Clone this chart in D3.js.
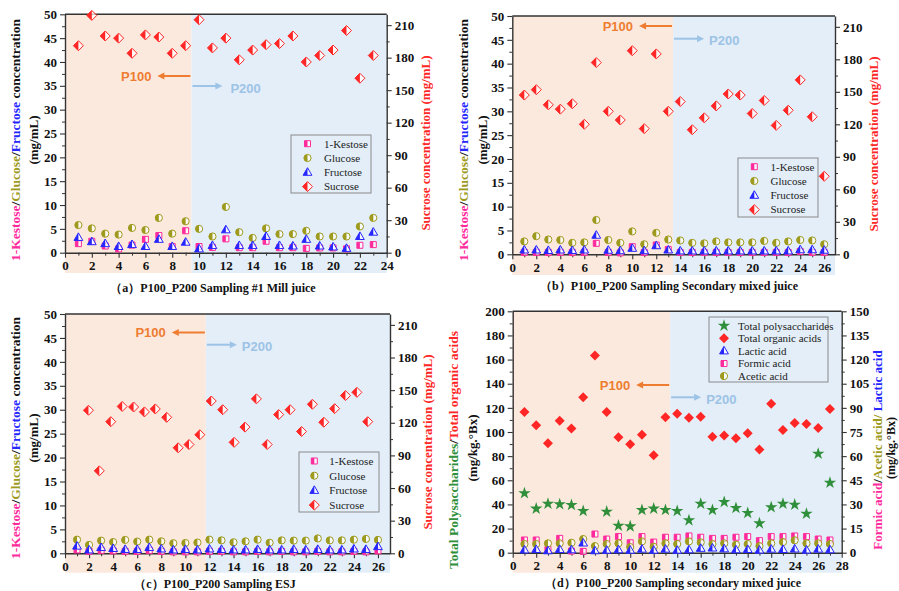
<!DOCTYPE html>
<html><head><meta charset="utf-8">
<script src="https://cdn.jsdelivr.net/npm/d3@7/dist/d3.min.js"></script>
<style>html,body{margin:0;padding:0;background:#fff;overflow:hidden}</style>
</head><body>
<svg id="chart" width="899" height="591"></svg>
<script>
// ---------------- DATA ----------------
// Panel (a) P100_P200 Sampling #1 Mill juice
const sampleA   = [1,2,3,4,5,6,7,8,9,10,11,12,13,14,15,16,17,18,19,20,21,22,23];
const kestoseA  = [1.9,2.4,1.4,0.8,1.6,2.8,3.6,1.3,4.6,1.3,1.1,2.9,1.05,1.05,2.4,1.05,1.05,0.9,1.0,1.0,0.8,1.55,1.7];
const glucoseA  = [5.8,5.1,4.0,3.8,5.2,4.75,7.3,4.0,6.6,5.0,3.4,9.6,4.3,3.1,5.1,3.9,3.9,4.6,3.4,3.4,3.4,5.5,7.3];
const fructoseA = [3.2,2.3,1.9,1.3,1.7,1.3,2.8,1.3,2.2,0.8,1.5,4.8,1.5,1.5,3.4,1.5,1.4,2.8,1.4,1.2,0.9,3.4,4.3];
const sucroseA  = [191,219,200,198,184,201,199,184,191,215,189,198,178,187,192,193,200,176,182,187,205,161,182];

// Panel (b) P100_P200 Sampling Secondary mixed juice
const sampleB   = [1,2,3,4,5,6,7,8,9,10,11,12,13,14,15,16,17,18,19,20,21,22,23,24,25,26];
const kestoseB  = [0.4,0.4,0.4,0.4,0.4,0.4,2.3,0.4,0.3,1.6,0.4,1.95,1.0,0.4,0.4,0.4,0.4,0.4,0.4,0.4,0.4,0.4,0.4,0.6,0.4,0.4];
const glucoseB  = [2.7,3.8,3.1,3.0,2.4,2.5,7.2,3.0,2.4,4.8,2.1,4.5,3.1,2.9,2.4,2.3,2.7,2.5,2.5,2.5,2.8,2.4,2.7,3.0,2.9,2.1];
const fructoseB = [0.9,0.9,0.8,0.9,0.8,0.9,4.0,0.85,0.75,1.25,0.75,1.8,0.9,0.7,0.7,0.7,0.7,0.7,0.7,0.7,0.7,0.7,0.7,0.95,0.95,0.85];
const sucroseB  = [147,152,138,134,139,120,177,132,124,188,116,185,132,141,115,126,137,148,147,130,142,119,133,161,127,72];

// Panel (c) P100_P200 Sampling ESJ
const sampleC   = [1,2,3,4,5,6,7,8,9,10,11,12,13,14,15,16,17,18,19,20,21,22,23,24,25,26];
const kestoseC  = [0.7,0.4,0.6,0.5,0.4,0.4,0.6,0.4,0.3,0.3,0.3,0.4,0.4,0.3,0.3,0.4,0.3,0.4,0.3,0.3,0.4,0.3,0.3,0.4,0.3,0.5];
const glucoseC  = [2.85,1.75,2.65,2.35,2.8,2.45,2.85,2.5,2.1,2.15,2.25,2.85,2.7,2.3,2.5,2.85,2.2,2.7,2.65,2.65,3.1,2.7,2.7,2.85,3.0,2.8];
const fructoseC = [1.5,0.7,1.2,1.0,0.8,0.8,1.2,0.9,0.7,0.8,0.7,0.9,0.8,0.7,0.7,0.8,0.7,0.7,0.8,0.7,0.8,0.7,0.7,0.9,0.8,1.4];
const sucroseXC = [1.95,2.85,3.8,4.75,5.7,6.6,7.5,8.45,9.4,10.3,11.2,12.15,13.1,14.05,14.95,15.9,16.8,17.75,18.7,19.65,20.55,21.5,22.4,23.3,24.25,25.15];
const sucroseC  = [131.5,75.8,121,135,134.5,130,132.7,125,97,100,109,140,132,102,116,142,100,127.5,132,112,137,120.5,133,145,148,121];

// Panel (d) P100_P200 Sampling secondary mixed juice (organic acids)
const sampleD   = [1,2,3,4,5,6,7,8,9,10,11,12,13,14,15,16,17,18,19,20,21,22,23,24,25,26,27];
const polysD    = [49.2,36.5,40.6,40.1,39.5,34.5,null,34.0,22.4,21.8,35.4,36.5,35.4,34.5,26.8,40.6,35.4,42,37,32.9,24.3,37.6,40.6,39.8,32.3,82,58];
const organicD  = [116.6,105.5,90.6,109.4,102.8,128.7,163.3,116.6,95.6,89.8,97.8,80.7,112.2,115.2,111.9,112.7,96.1,97.2,94.8,98.9,85.4,123.5,101.7,107.5,106.6,103.3,119.1];
const lacticD   = [1.7,2.0,1.2,2.0,1.8,6.0,1.2,1.5,1.8,1.5,2.2,1.5,2.2,1.5,1.8,2.7,2.9,2.4,1.8,2.0,1.6,2.2,2.0,2.3,1.6,2.2,1.8];
const formicD   = [7.9,7.9,2.0,8.9,1.0,0.8,11.6,8.5,10,6.2,10,6.6,9.6,9.6,10.4,9.6,8.9,8.9,9.6,10,7.5,10,10,10.4,10,8.5,7.9];
const aceticD   = [5.4,5.4,5.8,5.8,6.2,8.5,4.1,5.4,5.8,3.5,7.0,3.7,5.8,5.4,7.0,6.4,5.4,5.8,5.0,5.4,4.1,5.8,6.6,7.7,5.8,5.8,5.4];

// Tick labels
const ticksLeftSugar  = [0,5,10,15,20,25,30,35,40,45,50];
const ticksRightSugar = [0,30,60,90,120,150,180,210];
const ticksLeftAcid   = [0,20,40,60,80,100,120,140,160,180,200];
const ticksRightAcid  = [0,15,30,45,60,75,90,105,120,135,150];
const ticksX24 = [0,2,4,6,8,10,12,14,16,18,20,22,24];
const ticksX26 = [0,2,4,6,8,10,12,14,16,18,20,22,24,26];
const ticksX28 = [0,2,4,6,8,10,12,14,16,18,20,22,24,26,28];

const captions = ["（a）P100_P200 Sampling #1 Mill juice","（b）P100_P200 Sampling Secondary mixed juice","（c）P100_P200 Sampling ESJ","（d）P100_P200 Sampling secondary mixed juice"];

// ---------------- STYLE ----------------
const SERIF = "'Liberation Serif','Times New Roman',serif";
const SANS = "'Liberation Sans',Arial,sans-serif";
const C = {kes:"#ff2a9c", glu:"#9e9a1e", fru:"#2626ff", suc:"#ff2626", green:"#2f8f3a",
  orangeBg:"#fce9dd", blueBg:"#e3eef8", orange:"#ee7d31", blue:"#9dc3e6", axis:"#333"};

const svg = d3.select("#chart");
const defs = svg.append("defs");
defs.append("clipPath").attr("id","lh").attr("clipPathUnits","userSpaceOnUse")
  .append("rect").attr("x",-12).attr("y",-12).attr("width",12).attr("height",24);

const shapes = {
  square: "M-3,-3H3V3H-3Z",
  triangle: "M0,-4.6L4.4,3L-4.4,3Z",
  diamond: "M0,-5L5,0L0,5L-5,0Z",
  star: d3.symbol(d3.symbolStar).size(48)()
};

function marker(g, type, color, cx, cy, half) {
  const m = g.append("g").attr("transform", `translate(${cx},${cy})`);
  if (type === "circle") {
    m.append("circle").attr("r",3.6).attr("fill", half ? "#fff" : color).attr("fill-opacity",0.7).attr("stroke",color).attr("stroke-width",1);
    if (half) m.append("circle").attr("r",3.6).attr("fill",color).attr("clip-path","url(#lh)");
  } else {
    const d = shapes[type];
    if (half) {
      m.append("path").attr("d",d).attr("fill","#fff").attr("fill-opacity",0.7).attr("stroke",color).attr("stroke-width",1);
      m.append("path").attr("d",d).attr("fill",color).attr("clip-path","url(#lh)");
    } else {
      m.append("path").attr("d",d).attr("fill",color);
    }
  }
}

function styleAxis(sel) {
  sel.select(".domain").attr("stroke",C.axis).attr("stroke-width",1.4);
  sel.selectAll(".tick line").attr("stroke",C.axis).attr("stroke-width",1.1);
  sel.selectAll("text").attr("font-family",SERIF).attr("font-weight","bold").attr("font-size",13).attr("fill","#111");
}
function minorAxis(g, gen, vals, tr) {
  const a = g.append("g").attr("transform",tr).call(gen.tickValues(vals).tickSize(3).tickSizeOuter(0).tickFormat(""));
  a.select(".domain").remove();
  a.selectAll(".tick line").attr("stroke",C.axis).attr("stroke-width",1);
}

function rotText(g, x, y, parts, size) {
  const t = g.append("text").attr("transform",`translate(${x},${y}) rotate(-90)`)
    .attr("text-anchor","middle").attr("dy","0.35em")
    .attr("font-family",SERIF).attr("font-weight","bold").attr("font-size",size||13);
  parts.forEach(p => t.append("tspan").attr("fill",p[1]).text(p[0]));
}

function drawPanel(p) {
  const g = svg.append("g");
  const x = d3.scaleLinear().domain([0,p.xMax]).range([p.l,p.r]);
  const yL = d3.scaleLinear().domain([0,p.yLMax]).range([p.b,p.t]);
  const yR = d3.scaleLinear().domain([0,p.yRMax]).range([p.b,p.t]);
  // shading
  g.append("rect").attr("x",x(0)).attr("y",p.t).attr("width",x(p.split)-x(0)).attr("height",p.shadeB-p.t).attr("fill",C.orangeBg);
  g.append("rect").attr("x",x(p.split)).attr("y",p.t).attr("width",p.r-x(p.split)).attr("height",p.shadeB-p.t).attr("fill",C.blueBg);
  // axes
  styleAxis(g.append("g").attr("transform",`translate(${p.l},0)`).call(d3.axisLeft(yL).tickValues(p.ticksL).tickSize(5).tickSizeOuter(0).tickPadding(3).tickFormat(d3.format("d"))));
  minorAxis(g, d3.axisLeft(yL), p.ticksL.slice(1).map(v=>v-p.stepL/2), `translate(${p.l},0)`);
  styleAxis(g.append("g").attr("transform",`translate(${p.r},0)`).call(d3.axisRight(yR).tickValues(p.ticksR).tickSize(5).tickSizeOuter(0).tickPadding(3).tickFormat(d3.format("d"))));
  minorAxis(g, d3.axisRight(yR), p.ticksR.map(v=>v+p.stepR/2).filter(v=>v<p.yRMax), `translate(${p.r},0)`);
  styleAxis(g.append("g").attr("transform",`translate(0,${p.b})`).call(d3.axisBottom(x).tickValues(p.ticksX).tickSize(5).tickSizeOuter(0).tickPadding(3).tickFormat(d3.format("d"))));
  minorAxis(g, d3.axisBottom(x), p.ticksX.map(v=>v+1).filter(v=>v<p.xMax), `translate(0,${p.b})`);
  g.append("line").attr("x1",p.l).attr("x2",p.r).attr("y1",p.t).attr("y2",p.t).attr("stroke",C.axis).attr("stroke-width",1.4);
  // series
  p.series.forEach(s => {
    s.y.forEach((v,i) => { if (v == null) return;
      marker(g, s.type, s.color, x(s.x[i]), (s.right ? yR : yL)(v), s.half); });
  });
  // legend
  const L = p.legend;
  g.append("rect").attr("x",L.x).attr("y",L.y).attr("width",L.w).attr("height",L.h).attr("fill","none").attr("stroke","#8a8a8a").attr("stroke-width",1);
  p.series.slice().sort((a,b)=>a.li-b.li).forEach((s,k) => {
    const yy = L.y0 + k*L.dy;
    marker(g, s.type, s.color, L.mx, yy, s.half);
    g.append("text").attr("x",L.tx).attr("y",yy).attr("dy","0.35em").attr("font-family",SERIF).attr("font-size",11).attr("fill","#222").text(s.name);
  });
  // P100 / P200 annotations
  const A = p.ann;
  const xs = x(p.split);
  g.append("line").attr("x1",xs-1).attr("x2",xs-28).attr("y1",A.y1).attr("y2",A.y1).attr("stroke",C.orange).attr("stroke-width",2);
  g.append("path").attr("d",`M${xs-34},${A.y1}l7,-3.5v7z`).attr("fill",C.orange);
  g.append("text").attr("x",xs-40).attr("y",A.y1).attr("dy","0.36em").attr("text-anchor","end").attr("font-family",SANS).attr("font-weight","bold").attr("font-size",13).attr("fill",C.orange).text("P100");
  g.append("line").attr("x1",xs+1).attr("x2",xs+25).attr("y1",A.y2).attr("y2",A.y2).attr("stroke",C.blue).attr("stroke-width",2);
  g.append("path").attr("d",`M${xs+31},${A.y2}l-7,-3.5v7z`).attr("fill",C.blue);
  g.append("text").attr("x",xs+A.gap).attr("y",A.y2+2).attr("dy","0.36em").attr("font-family",SANS).attr("font-weight","bold").attr("font-size",13).attr("fill",C.blue).text("P200");
  // axis titles
  rotText(g, p.lt1.x, p.lt1.y, p.leftTitle, 13.5);
  rotText(g, p.lt2.x, p.lt2.y, p.leftTitle2, 13);
  rotText(g, p.rt1.x, p.rt1.y, p.rightTitle, 13);
  if (p.rightTitle2) rotText(g, p.rt2.x, p.rt2.y, p.rightTitle2, 12);
  // caption
  g.append("text").attr("x",p.cap.x).attr("y",p.cap.y).attr("dy","0.35em").attr("text-anchor","middle")
    .attr("font-family",SERIF).attr("font-weight","bold").attr("font-size",12).attr("fill","#111").text(p.caption);
}

const sugarTitle = [["1-Kestose",C.kes],["/","#111"],["Glucose",C.glu],["/","#111"],["Fructose",C.fru],[" concentration","#111"]];
const mgml = [["(mg/mL)","#111"]];
const sucTitle = [["Sucrose concentration (mg/mL)",C.suc]];

function sugarSeries(xs, k, gl, fr, sx, su) {
  return [
    {name:"1-Kestose", type:"square", color:C.kes, half:true, x:xs, y:k, li:0},
    {name:"Glucose", type:"circle", color:C.glu, half:true, x:xs, y:gl, li:1},
    {name:"Fructose", type:"triangle", color:C.fru, half:true, x:xs, y:fr, li:2},
    {name:"Sucrose", type:"diamond", color:C.suc, half:true, x:sx, y:su, right:true, li:3}
  ];
}

drawPanel({l:65,r:386.7,t:14.3,b:252.7,shadeB:273,xMax:24,yLMax:50,yRMax:220,split:9.43,
  ticksL:ticksLeftSugar,stepL:5,ticksR:ticksRightSugar,stepR:30,ticksX:ticksX24,
  series:sugarSeries(sampleA,kestoseA,glucoseA,fructoseA,sampleA,sucroseA),
  legend:{x:291,y:135,w:80,h:58,y0:143.7,dy:14.3,mx:307.5,tx:324},
  ann:{y1:76,y2:86,gap:39},
  leftTitle:sugarTitle,leftTitle2:mgml,rightTitle:sucTitle,
  lt1:{x:15,y:140},lt2:{x:33,y:140},rt1:{x:425,y:143},
  cap:{x:213,y:288},caption:captions[0]});

drawPanel({l:512.3,r:835,t:16,b:254.3,shadeB:275,xMax:26.9,yLMax:50,yRMax:220,split:13.4,
  ticksL:ticksLeftSugar,stepL:5,ticksR:ticksRightSugar,stepR:30,ticksX:ticksX26,
  series:sugarSeries(sampleB,kestoseB,glucoseB,fructoseB,sampleB,sucroseB),
  legend:{x:738,y:158,w:80,h:59,y0:166.7,dy:14.3,mx:754.3,tx:770.5},
  ann:{y1:26,y2:38.7,gap:36},
  leftTitle:sugarTitle,leftTitle2:mgml,rightTitle:sucTitle,
  lt1:{x:463,y:140},lt2:{x:482,y:140},rt1:{x:873,y:144},
  cap:{x:669,y:286},caption:captions[1]});

drawPanel({l:65,r:390,t:314,b:553.3,shadeB:572.7,xMax:27,yLMax:50,yRMax:220,split:11.7,
  ticksL:ticksLeftSugar,stepL:5,ticksR:ticksRightSugar,stepR:30,ticksX:ticksX26,
  series:sugarSeries(sampleC,kestoseC,glucoseC,fructoseC,sucroseXC,sucroseC),
  legend:{x:299,y:452,w:80,h:60,y0:461,dy:14.7,mx:314.3,tx:329.3},
  ann:{y1:332.5,y2:344.7,gap:36},
  leftTitle:sugarTitle,leftTitle2:mgml,rightTitle:sucTitle,
  lt1:{x:15,y:438},lt2:{x:33,y:438},rt1:{x:427,y:442},
  cap:{x:215,y:584},caption:captions[2]});

drawPanel({l:512.7,r:841.7,t:311.3,b:552.7,shadeB:572.7,xMax:28,yLMax:200,yRMax:150,split:13.4,
  ticksL:ticksLeftAcid,stepL:20,ticksR:ticksRightAcid,stepR:15,ticksX:ticksX28,
  series:[
    {name:"Formic acid", type:"square", color:C.kes, half:true, x:sampleD, y:formicD, right:true, li:3},
    {name:"Acetic acid", type:"circle", color:C.glu, half:true, x:sampleD, y:aceticD, right:true, li:4},
    {name:"Lactic acid", type:"triangle", color:C.fru, half:true, x:sampleD, y:lacticD, right:true, li:2},
    {name:"Total organic acids", type:"diamond", color:C.suc, half:false, x:sampleD, y:organicD, li:1},
    {name:"Total polysaccharides", type:"star", color:C.green, half:false, x:sampleD, y:polysD, li:0}
  ],
  legend:{x:709,y:317,w:119,h:65,y0:325.7,dy:12.6,mx:724,tx:738},
  ann:{y1:385,y2:397.3,gap:36},
  leftTitle:[["Total Polysaccharides",C.green],["/","#111"],["Total organic acids",C.suc]],
  leftTitle2:[["(mg/kg.°Bx)","#111"]],
  rightTitle:[["Formic acid",C.kes],["/","#111"],["Acetic acid/",C.glu],[" Lactic acid",C.fru]],
  rightTitle2:[["(mg/kg.°Bx)","#111"]],
  lt1:{x:453,y:450},lt2:{x:472,y:448},rt1:{x:877,y:450},rt2:{x:891,y:448},
  cap:{x:673,y:583},caption:captions[3]});
</script>
</body></html>
